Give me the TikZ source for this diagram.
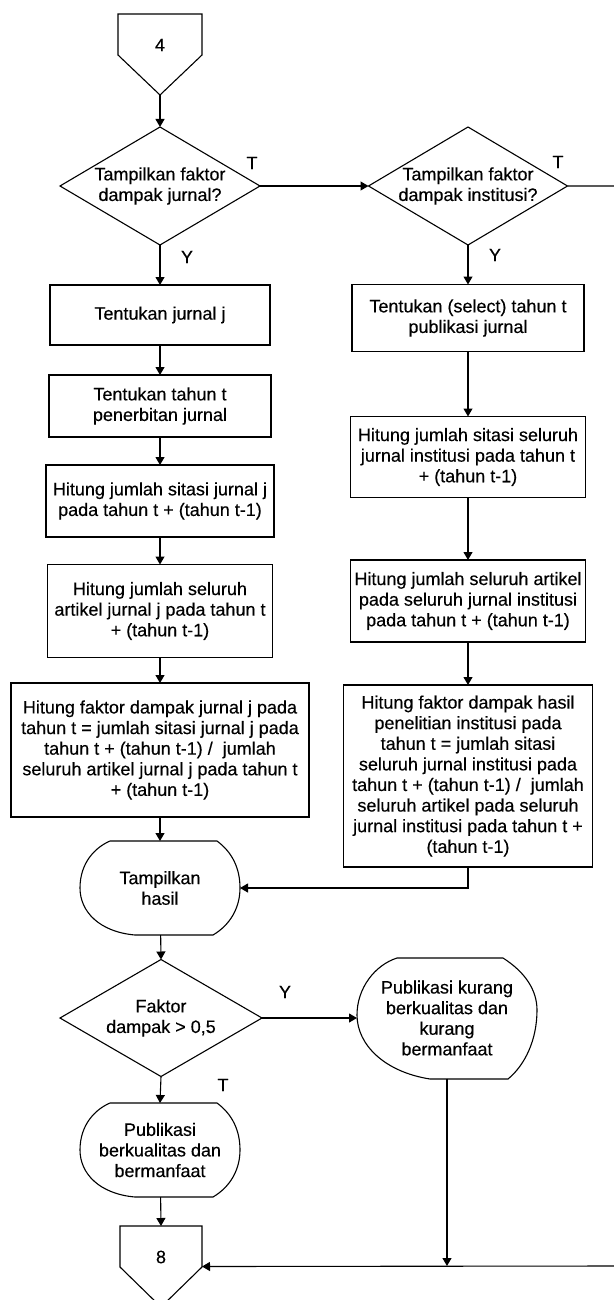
\documentclass[tikz,border=0pt]{standalone}
\usepackage{fontspec}
\setmainfont[FakeBold=0.3]{Liberation Sans}
\usetikzlibrary{shapes.geometric,arrows.meta}
\begin{document}
\begin{tikzpicture}[x=0.5pt,y=-0.5pt,
  line width=0.55pt,
  every node/.style={font=\fontsize{9pt}{10.3pt}\selectfont,
    inner sep=0pt, outer sep=0pt, align=center},
  proc/.style={draw, rectangle},
  dec/.style={draw, diamond},
  ghost/.style={rectangle},
  flow/.style={-{Triangle[length=4pt,width=4.5pt]}},
  pics/dispshape/.style={code={
    \draw (-50,-47) -- (57,-47) .. controls (72,-36) and (80,-20) .. (80,0)
      .. controls (80,20) and (70,37) .. (53,47) -- (-25,47)
      .. controls (-60,44) and (-80,24) .. (-80,0)
      .. controls (-80,-26) and (-64,-41) .. (-50,-47) -- cycle;}},
  pics/dispwide/.style={code={
    \draw (-50,-60) -- (56,-60) .. controls (78,-46) and (90,-28) .. (90,-8)
      .. controls (90,22) and (78,47) .. (61,61) -- (-17,61)
      .. controls (-62,54) and (-90,27) .. (-90,-3)
      .. controls (-90,-30) and (-72,-53) .. (-50,-60) -- cycle;}}
]
\useasboundingbox (0,0) rectangle (614,1300);

% off-page connectors
\draw (118,14) -- (202,14) -- (202,55) -- (160,95) -- (118,55) -- cycle;
\node[ghost, minimum width=42pt, minimum height=40.5pt] (c4) at (160,54.5) {};
\node (c4t) at (160,45) {4};

\draw (120,1226) -- (202,1226) -- (202,1267) -- (161,1307) -- (120,1267) -- cycle;
\node[ghost, minimum width=41pt, minimum height=40.5pt] (c8) at (161,1266.5) {};
\node (c8t) at (161,1257) {8};

% decisions
\node[dec, minimum width=100pt, minimum height=59pt,
  label={center:{Tampilkan faktor\\dampak jurnal?}}] (d1) at (160,186) {};
\node[dec, minimum width=99.5pt, minimum height=59pt,
  label={center:{Tampilkan faktor\\dampak institusi?}}] (d2) at (468,186) {};
\node[dec, minimum width=101pt, minimum height=58.5pt,
  label={center:{Faktor\\dampak > 0,5}}] (d3) at (161,1018) {};

% left column
\node[proc, minimum width=110pt, minimum height=30pt] (b1) at (160,315) {Tentukan jurnal j};
\node[proc, minimum width=111pt, minimum height=31pt] (b2) at (160,406) {Tentukan tahun t\\penerbitan jurnal};
\node[proc, minimum width=114pt, minimum height=36pt] (b3) at (160,501) {Hitung jumlah sitasi jurnal j\\pada tahun t + (tahun t-1)};
\node[proc, minimum width=112.5pt, minimum height=46.5pt] (b4) at (160,611) {Hitung jumlah seluruh\\artikel jurnal j pada tahun t\\+ (tahun t-1)};
\node[proc, minimum width=149pt, minimum height=67pt] (b5) at (160,750) {Hitung faktor dampak jurnal j pada\\tahun t = jumlah sitasi jurnal j pada\\tahun t + (tahun t-1) /\ \ jumlah\\seluruh artikel jurnal j pada tahun t\\+ (tahun t-1)};

% right column
\node[proc, minimum width=116pt, minimum height=33.5pt] (r1) at (468,318) {Tentukan (select) tahun t\\publikasi jurnal};
\node[proc, minimum width=117.5pt, minimum height=40.5pt] (r2) at (468,457) {Hitung jumlah sitasi seluruh\\jurnal institusi pada tahun t\\+ (tahun t-1)};
\node[proc, minimum width=117.5pt, minimum height=41pt] (r3) at (468,601) {Hitung jumlah seluruh artikel\\pada seluruh jurnal institusi\\pada tahun t + (tahun t-1)};
\node[proc, minimum width=124.5pt, minimum height=91pt] (r4) at (468,776) {Hitung faktor dampak hasil\\penelitian institusi pada\\tahun t = jumlah sitasi\\seluruh jurnal institusi pada\\tahun t + (tahun t-1) /\ \ jumlah\\seluruh artikel pada seluruh\\jurnal institusi pada tahun t +\\(tahun t-1)};

% display symbols
\pic at (160,888) {dispshape};
\node[ghost, minimum width=80pt, minimum height=47pt] (disp) at (160,888) {Tampilkan\\hasil};
\pic at (447,1018) {dispwide};
\node[ghost, minimum width=90pt, minimum height=60.5pt] (s2) at (447,1018) {Publikasi kurang\\berkualitas dan\\kurang\\bermanfaat};
\pic at (160,1150) {dispshape};
\node[ghost, minimum width=80pt, minimum height=47pt] (s3) at (160,1150) {Publikasi\\berkualitas dan\\bermanfaat};

% branch labels
\node (t1) at (252,163) {T};
\node (y1) at (187,257) {Y};
\node (t2) at (558,162) {T};
\node (y2) at (495,255) {Y};
\node (y3) at (285,992) {Y};
\node (t3) at (223,1085) {T};

% connectors
\draw[flow] (c4.south) -- (d1.north);
\draw[flow] (d1.east) -- (d2.west);
\draw[flow] (d1.south) -- (b1.north);
\draw[flow] (b1) -- (b2);
\draw[flow] (b2) -- (b3);
\draw[flow] (b3) -- (b4);
\draw[flow] (b4) -- (b5);
\draw[flow] (b5) -- (disp);
\draw[flow] (d2.south) -- (r1.north);
\draw[flow] (r1) -- (r2);
\draw[flow] (r2) -- (r3);
\draw[flow] (r3) -- (r4);
\draw[flow] (r4.south) |- (disp.east);
\draw[flow] (disp) -- (d3.north);
\draw[flow] (d3.east) -- (s2.west);
\draw[flow] (d3.south) -- (s3.north);
\draw[flow] (s3) -- (c8.north);
\coordinate (rt) at (616,1266);
\draw[flow] (d2.east) -| (rt) -- (c8.east);
\coordinate (jn) at (447,1266);
\draw[flow] (s2.south) -- (jn);
\end{tikzpicture}
\end{document}
